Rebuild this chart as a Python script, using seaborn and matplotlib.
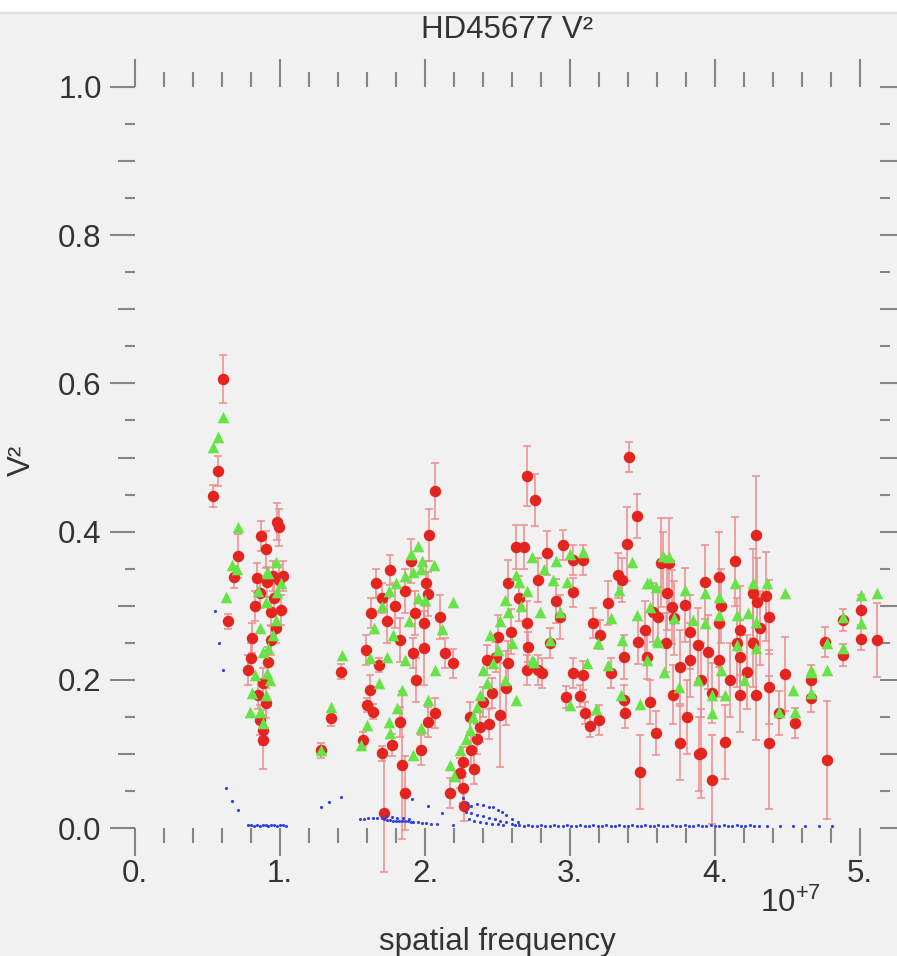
import numpy as np
import pandas as pd
import matplotlib
matplotlib.use("Agg")
import matplotlib.pyplot as plt
from matplotlib.patches import Rectangle
from matplotlib.lines import Line2D
from matplotlib.ticker import MultipleLocator, FixedLocator, FuncFormatter
import seaborn as sns

# ---------------- data (spatial frequency in units of 1e7) ----------------
red_freq = [
    0.54, 0.57, 0.61, 0.64, 0.68, 0.71,
    0.84, 0.91, 0.99, 0.86, 1.01, 0.94, 0.81, 0.94, 0.78, 0.92, 0.88, 0.90, 0.86, 0.88, 0.88, 0.87, 0.90, 0.98, 0.99, 1.02, 0.95, 0.83, 0.97, 0.80, 0.85, 0.96,
    1.42, 1.35, 1.28,
    1.57, 1.60, 1.64, 1.68, 1.70, 1.72, 1.77, 1.83, 1.84, 1.86, 1.92, 1.97, 2.02, 2.07, 2.14, 2.19, 2.07, 2.03, 2.01, 2.02, 1.99, 1.99, 2.10,
    1.63, 1.66, 1.70, 1.74, 1.76, 1.79, 1.83, 1.86, 1.90, 1.93, 1.59, 1.62, 1.94,
    2.17, 2.26, 2.27, 2.24, 2.26, 2.32, 2.38, 2.31, 2.46, 2.52, 2.49, 2.56, 2.70, 2.81, 2.70, 2.76, 2.63, 2.68, 2.84, 2.95, 3.09, 3.02, 2.57, 2.78, 3.02, 2.65, 2.90, 2.70, 2.93, 2.50, 2.59, 2.86, 2.71, 2.57, 2.78, 2.43, 3.02, 3.09, 3.28, 2.36, 2.40, 2.34, 2.44,
    2.97, 3.07, 3.10, 3.14, 3.20, 3.37, 3.38, 3.59,
    3.41, 3.46, 3.39, 3.33, 3.36, 3.64, 3.26, 3.16, 3.21, 3.37, 3.47, 3.57, 3.67, 3.53,
    4.28, 4.14, 4.03, 3.93, 3.63, 3.68, 3.70, 3.79, 3.61, 3.52, 3.72, 3.83, 4.03, 4.17, 4.26, 4.29, 4.35, 4.37, 4.26, 4.15,
    4.17, 4.03, 3.95, 3.88, 3.76, 3.83, 3.90, 3.98, 4.07, 4.17, 4.28, 4.37, 4.37, 4.48, 4.44, 4.55, 4.66, 4.66, 4.77, 4.76,
    4.88, 4.88, 5.01, 5.01, 5.12, 3.98, 3.76, 3.89, 3.48, 4.04, 3.90, 4.10, 4.22, 3.71, 3.55, 3.81, 3.66, 4.31,
]
red_v2 = [
    0.448, 0.482, 0.606, 0.279, 0.339, 0.367,
    0.337, 0.332, 0.335, 0.317, 0.294, 0.292, 0.256, 0.254, 0.213, 0.224, 0.196, 0.169, 0.146, 0.132, 0.119, 0.394, 0.376, 0.413, 0.406, 0.340, 0.340, 0.300, 0.270, 0.230, 0.180, 0.310,
    0.211, 0.148, 0.105,
    0.119, 0.166, 0.157, 0.220, 0.101, 0.020, 0.112, 0.143, 0.085, 0.047, 0.236, 0.105, 0.143, 0.155, 0.236, 0.222, 0.455, 0.395, 0.330, 0.316, 0.277, 0.243, 0.285,
    0.290, 0.330, 0.310, 0.280, 0.348, 0.300, 0.254, 0.320, 0.360, 0.290, 0.240, 0.186, 0.200,
    0.047, 0.054, 0.030, 0.074, 0.089, 0.105, 0.136, 0.150, 0.182, 0.152, 0.231, 0.189, 0.213, 0.209, 0.475, 0.443, 0.379, 0.379, 0.371, 0.382, 0.362, 0.362, 0.331, 0.335, 0.318, 0.310, 0.306, 0.277, 0.285, 0.258, 0.265, 0.250, 0.244, 0.222, 0.213, 0.227, 0.209, 0.206, 0.209, 0.120, 0.170, 0.080, 0.140,
    0.177, 0.178, 0.155, 0.138, 0.146, 0.173, 0.155, 0.128,
    0.501, 0.421, 0.383, 0.341, 0.335, 0.359, 0.304, 0.277, 0.261, 0.231, 0.251, 0.291, 0.317, 0.231,
    0.395, 0.360, 0.339, 0.332, 0.358, 0.358, 0.298, 0.301, 0.285, 0.267, 0.283, 0.265, 0.277, 0.267, 0.317, 0.305, 0.313, 0.285, 0.250, 0.250,
    0.231, 0.227, 0.237, 0.247, 0.217, 0.227, 0.101, 0.065, 0.116, 0.179, 0.179, 0.115, 0.190, 0.208, 0.155, 0.142, 0.200, 0.176, 0.092, 0.251,
    0.281, 0.233, 0.294, 0.255, 0.254, 0.182, 0.115, 0.100, 0.076, 0.300, 0.200, 0.200, 0.210, 0.180, 0.170, 0.150, 0.250, 0.270,
]
red_err = [
    0.015, 0.02, 0.032, 0.01, 0.015, 0.03,
    0.02, 0.02, 0.02, 0.02, 0.02, 0.02, 0.02, 0.02, 0.02, 0.02, 0.02, 0.02, 0.02, 0.02, 0.04, 0.02, 0.025, 0.025, 0.025, 0.02, 0.02, 0.02, 0.02, 0.02, 0.02, 0.02,
    0.01, 0.01, 0.01,
    0.01, 0.01, 0.01, 0.01, 0.01, 0.08, 0.015, 0.02, 0.10, 0.05, 0.02, 0.02, 0.02, 0.02, 0.02, 0.02, 0.038, 0.035, 0.03, 0.03, 0.03, 0.05, 0.03,
    0.02, 0.02, 0.02, 0.03, 0.02, 0.03, 0.03, 0.03, 0.03, 0.03, 0.02, 0.02, 0.03,
    0.02, 0.02, 0.02, 0.02, 0.02, 0.02, 0.02, 0.02, 0.02, 0.07, 0.02, 0.05, 0.02, 0.02, 0.04, 0.035, 0.03, 0.03, 0.03, 0.02, 0.02, 0.02, 0.03, 0.03, 0.02, 0.03, 0.03, 0.03, 0.03, 0.03, 0.03, 0.02, 0.02, 0.03, 0.02, 0.02, 0.02, 0.02, 0.02, 0.02, 0.02, 0.02, 0.02,
    0.015, 0.015, 0.015, 0.015, 0.02, 0.02, 0.02, 0.03,
    0.02, 0.03, 0.05, 0.03, 0.03, 0.04, 0.03, 0.02, 0.02, 0.03, 0.03, 0.04, 0.05, 0.03,
    0.08, 0.06, 0.06, 0.05, 0.06, 0.06, 0.05, 0.05, 0.04, 0.04, 0.05, 0.05, 0.06, 0.06, 0.06, 0.06, 0.06, 0.05, 0.06, 0.06,
    0.05, 0.05, 0.05, 0.05, 0.05, 0.05, 0.06, 0.06, 0.05, 0.05, 0.06, 0.09, 0.05, 0.05, 0.03, 0.02, 0.02, 0.02, 0.08, 0.02,
    0.015, 0.015, 0.02, 0.015, 0.05, 0.04, 0.05, 0.05, 0.05, 0.05, 0.05, 0.05, 0.05, 0.04, 0.03, 0.05, 0.04, 0.05,
]

green_freq = [
    0.54, 0.57, 0.61, 0.63, 0.67, 0.71, 0.70,
    0.92, 0.98, 0.90, 0.97, 0.86, 0.92, 0.88, 0.91, 0.83, 0.81, 0.90, 0.79, 0.86, 0.88, 0.97, 0.91, 1.01, 0.85, 0.95, 0.93,
    1.43, 1.35, 1.28,
    1.56, 1.60, 1.68, 1.74, 1.75, 1.76, 1.84, 1.81, 1.92, 1.86, 1.97, 2.02, 2.07, 2.06, 2.00, 2.19, 2.12,
    1.65, 1.70, 1.75, 1.80, 1.86, 1.92, 1.97, 1.62, 1.78, 1.89, 1.95, 1.90, 1.95, 1.98,
    2.17, 2.24, 2.31, 2.36, 2.43, 2.47, 2.63, 2.75, 2.74, 3.09, 2.63, 2.65, 2.88, 2.98, 2.55, 2.57, 2.79, 2.93, 2.50, 2.86,
    2.74, 2.40, 3.12, 3.26, 2.28, 2.33, 2.38, 2.45, 2.52, 2.60, 2.66, 2.70, 2.82, 2.90, 3.00, 2.20, 2.55,
    3.00, 3.18, 3.48, 3.35,
    3.43, 3.34, 3.55, 3.64, 3.28, 3.19, 3.36, 3.46, 3.55, 3.60, 4.14, 4.03, 3.93, 3.68, 3.53, 3.59, 3.79, 3.61, 3.72, 3.85,
    3.93, 4.03, 4.15, 4.23, 4.28, 4.26, 4.36, 4.48, 4.28, 4.15, 4.04, 4.66, 4.77, 4.77, 4.88, 4.88, 5.01, 5.01, 5.12, 4.44,
    4.54, 4.55, 4.66, 4.66, 3.98, 3.98, 4.07, 3.88, 3.75, 3.65, 3.53, 4.20,
]
green_v2 = [
    0.514, 0.528, 0.555, 0.312, 0.355, 0.406, 0.350,
    0.344, 0.319, 0.305, 0.281, 0.270, 0.243, 0.238, 0.209, 0.206, 0.182, 0.180, 0.157, 0.157, 0.142, 0.359, 0.346, 0.330, 0.320, 0.260, 0.200,
    0.233, 0.163, 0.105,
    0.112, 0.139, 0.196, 0.231, 0.143, 0.128, 0.186, 0.162, 0.098, 0.227, 0.135, 0.173, 0.213, 0.355, 0.308, 0.305, 0.268,
    0.270, 0.300, 0.320, 0.330, 0.340, 0.345, 0.350, 0.230, 0.260, 0.280, 0.310, 0.370, 0.380, 0.360,
    0.085, 0.105, 0.132, 0.163, 0.196, 0.222, 0.173, 0.224, 0.366, 0.372, 0.341, 0.332, 0.335, 0.332, 0.308, 0.292, 0.292, 0.292, 0.240, 0.254,
    0.227, 0.213, 0.222, 0.220, 0.120, 0.150, 0.180, 0.260, 0.280, 0.250, 0.300, 0.320, 0.350, 0.360, 0.370, 0.070, 0.200,
    0.166, 0.160, 0.167, 0.180,
    0.359, 0.321, 0.331, 0.367, 0.283, 0.250, 0.254, 0.287, 0.298, 0.254, 0.331, 0.312, 0.317, 0.366, 0.331, 0.325, 0.321, 0.251, 0.283, 0.281,
    0.277, 0.287, 0.287, 0.290, 0.278, 0.331, 0.331, 0.317, 0.243, 0.247, 0.213, 0.213, 0.213, 0.250, 0.285, 0.243, 0.314, 0.277, 0.317, 0.157,
    0.186, 0.157, 0.211, 0.182, 0.180, 0.155, 0.180, 0.200, 0.190, 0.210, 0.227, 0.200,
]

blue_freq = [
    0.55, 0.58, 0.61, 0.63, 0.67, 0.71,
    0.78, 0.80, 0.82, 0.84, 0.86, 0.88, 0.90, 0.92, 0.94, 0.96, 0.98, 1.00, 1.02, 1.04,
    1.28, 1.34, 1.42,
    1.55, 1.58, 1.61, 1.64, 1.67, 1.70, 1.72, 1.74, 1.76, 1.78, 1.80, 1.82, 1.84, 1.86, 1.88, 1.90, 1.92, 1.95, 1.98, 2.01, 2.04, 2.08,
    1.73, 1.77, 1.81, 1.85, 1.89, 1.91, 2.02, 2.12, 2.19,
    2.26, 2.29, 2.32, 2.36, 2.40, 2.44, 2.47, 2.50, 2.53, 2.56, 2.60, 2.64,
    2.28, 2.32, 2.36, 2.40, 2.44, 2.48, 2.52, 2.56, 2.60, 2.30, 2.34, 2.38, 2.42, 2.46, 2.50, 2.54,
    2.62, 2.65, 2.68, 2.71, 2.74, 2.77, 2.80, 2.83, 2.86, 2.89, 2.92, 2.95, 2.98, 3.01, 3.04, 3.07, 3.10, 3.13, 3.16,
    3.19, 3.22, 3.25, 3.28, 3.31, 3.34, 3.37, 3.40, 3.43, 3.46, 3.49, 3.52, 3.55, 3.58, 3.61, 3.64, 3.67, 3.70, 3.73,
    3.76, 3.79, 3.82, 3.85, 3.88, 3.91, 3.94, 3.97, 4.00, 4.03, 4.06, 4.09, 4.12, 4.15, 4.18, 4.21, 4.24, 4.27, 4.30,
    4.36, 4.45, 4.54, 4.62, 4.72, 4.81,
]
blue_v2 = [
    0.293, 0.250, 0.213, 0.054, 0.037, 0.024,
    0.004, 0.004, 0.003, 0.004, 0.003, 0.004, 0.004, 0.003, 0.004, 0.004, 0.003, 0.004, 0.004, 0.003,
    0.028, 0.035, 0.042,
    0.012, 0.012, 0.013, 0.013, 0.013, 0.013, 0.012, 0.011, 0.011, 0.010, 0.010, 0.010, 0.009, 0.009, 0.009, 0.008, 0.008, 0.008, 0.007, 0.007, 0.006, 0.006,
    0.016, 0.015, 0.014, 0.013, 0.012, 0.039, 0.030, 0.020, 0.004,
    0.040, 0.034, 0.030, 0.032, 0.031, 0.028, 0.028, 0.024, 0.022, 0.018, 0.012, 0.008,
    0.022, 0.020, 0.018, 0.016, 0.014, 0.012, 0.010, 0.008, 0.006, 0.012, 0.010, 0.008, 0.007, 0.006, 0.005, 0.004,
    0.004, 0.004, 0.003, 0.004, 0.003, 0.003, 0.004, 0.003, 0.003, 0.004, 0.003, 0.003, 0.004, 0.003, 0.003, 0.004, 0.003, 0.003, 0.004,
    0.003, 0.003, 0.004, 0.003, 0.003, 0.004, 0.003, 0.003, 0.004, 0.003, 0.003, 0.004, 0.003, 0.003, 0.004, 0.003, 0.003, 0.004, 0.003,
    0.003, 0.004, 0.003, 0.003, 0.004, 0.003, 0.003, 0.004, 0.003, 0.003, 0.004, 0.003, 0.003, 0.004, 0.003, 0.003, 0.004, 0.003, 0.003,
    0.003, 0.003, 0.003, 0.003, 0.003, 0.003,
]

x_ticks = [0, 1, 2, 3, 4, 5]
y_ticks = [0.0, 0.2, 0.4, 0.6, 0.8, 1.0]
SCALE = 1e7

assert len(red_freq) == len(red_v2) == len(red_err)
assert len(green_freq) == len(green_v2)
assert len(blue_freq) == len(blue_v2)

red_df = pd.DataFrame({"freq": np.array(red_freq) * SCALE, "v2": red_v2, "err": red_err})
green_df = pd.DataFrame({"freq": np.array(green_freq) * SCALE, "v2": green_v2})
blue_df = pd.DataFrame({"freq": np.array(blue_freq) * SCALE, "v2": blue_v2})

# ---------------- style ----------------
sns.set_theme(style="ticks")
plt.rcParams["font.family"] = ["Liberation Sans", "DejaVu Sans"]
plt.rcParams["mathtext.fontset"] = "custom"
plt.rcParams["mathtext.rm"] = "Liberation Sans"
plt.rcParams["mathtext.it"] = "Liberation Sans"

BG = "#f1f1f1"
TICK = "#858585"
TXT = "#333333"
FS = 22.5

fig = plt.figure(figsize=(8.97, 9.56), dpi=100, facecolor=BG)
fig.patches.append(Rectangle((0, 1 - 12 / 956), 1, 12 / 956, transform=fig.transFigure,
                             facecolor="white", edgecolor="none", zorder=0))
fig.lines.append(Line2D([0, 1], [1 - 13 / 956] * 2, transform=fig.transFigure, color="#dcdcdc", lw=1.5))

ax = fig.add_axes([135 / 897, 1 - 828 / 956, (880 - 135) / 897, (828 - 87) / 956])
ax.set_facecolor(BG)

ax.errorbar(red_df["freq"], red_df["v2"], yerr=red_df["err"], fmt="none",
            ecolor="#ec8c8c", elinewidth=1.1, capsize=3, capthick=1.1, zorder=2, clip_on=False)
sns.scatterplot(data=red_df, x="freq", y="v2", ax=ax, color="#e3241f", marker="o",
                s=68, linewidth=0, zorder=3, clip_on=False)
sns.scatterplot(data=green_df, x="freq", y="v2", ax=ax, color="#66e447", marker="^",
                s=70, linewidth=0, zorder=4, clip_on=False)
sns.scatterplot(data=blue_df, x="freq", y="v2", ax=ax, color="#2f3fe6", marker="o",
                s=5, linewidth=0, zorder=5)

ax.set_xlim(0, (880 - 135) / 145 * SCALE)
ax.set_ylim(0, 1.0)
ax.set_xlabel("")
ax.set_ylabel("")
for sp in ax.spines.values():
    sp.set_visible(False)

ax.xaxis.set_major_locator(FixedLocator([t * SCALE for t in x_ticks]))
ax.xaxis.set_minor_locator(MultipleLocator(0.2 * SCALE))
ax.xaxis.set_major_formatter(FuncFormatter(lambda v, p: f"{v / SCALE:.0f}."))
ax.yaxis.set_major_locator(FixedLocator(y_ticks))
ax.yaxis.set_minor_locator(FixedLocator([0.05, 0.15, 0.25, 0.35, 0.45, 0.55, 0.65, 0.75, 0.85, 0.95]))
ax.yaxis.set_major_formatter(FuncFormatter(lambda v, p: f"{v:.1f}"))

ax.tick_params(axis="x", which="major", direction="out", length=20, width=1.5, color=TICK,
               top=True, bottom=True, labelsize=FS, labelcolor=TXT, pad=2)
ax.tick_params(axis="x", which="minor", direction="out", length=11, width=1.5, color=TICK,
               top=True, bottom=True)
ax.tick_params(axis="y", which="major", direction="out", length=18, width=1.5, color=TICK,
               left=True, right=True, labelsize=FS, labelcolor=TXT, pad=6)
ax.tick_params(axis="y", which="minor", direction="out", length=7, width=1.5, color=TICK,
               left=True, right=True)

for side in ("left", "right"):
    sec = ax.secondary_yaxis(side)
    sec.set_yticks([0.1, 0.3, 0.5, 0.7, 0.9])
    sec.tick_params(axis="y", which="major", direction="out", length=12, width=1.5, color=TICK,
                    labelleft=False, labelright=False)
    sec.yaxis.set_minor_locator(FixedLocator([]))
    for sp in sec.spines.values():
        sp.set_visible(False)

fig.text(507 / 897, 1 - 30 / 956, "HD45677 V²", ha="center", va="center", fontsize=FS, color=TXT)
fig.text(22 / 897, 1 - 460 / 956, "V²", ha="center", va="center", rotation=90, fontsize=FS, color=TXT)
fig.text(497 / 897, 1 - 942 / 956, "spatial frequency", ha="center", va="center", fontsize=FS, color=TXT)
fig.text(790 / 897, 1 - 903 / 956, r"10$^{+7}$", ha="center", va="center", fontsize=FS, color=TXT)

fig.savefig("out.png", dpi=100, facecolor=BG)
